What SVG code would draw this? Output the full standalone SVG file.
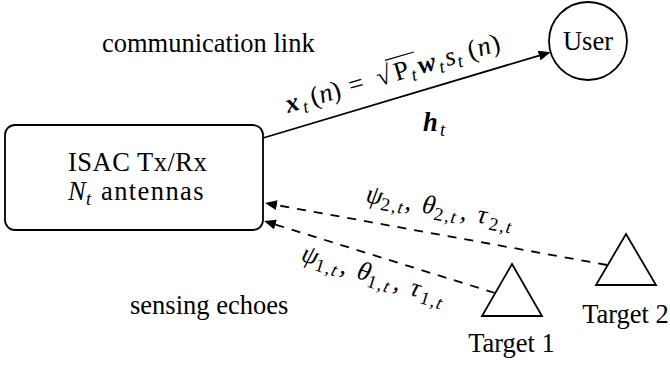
<svg xmlns="http://www.w3.org/2000/svg" width="670" height="366" viewBox="0 0 670 366">
<defs>
<style>
text{font-family:"Liberation Serif","Times New Roman",serif;font-size:26.5px;fill:#000}
.it{font-style:italic}
.bi{font-style:italic;font-weight:bold}
.sub{font-size:18.5px}
.gs{letter-spacing:1.6px}
.shape{fill:#fff;stroke:#000;stroke-width:1.8}
.conn{fill:none;stroke:#000;stroke-width:1.8}
.dash{stroke-dasharray:9 8}
</style>
<marker id="arr" viewBox="0 0 12 10" refX="0" refY="5" markerWidth="12" markerHeight="10" markerUnits="userSpaceOnUse" orient="auto">
<path d="M0,0 L12,5 L0,10 z" fill="#000"/>
</marker>
</defs>
<rect width="670" height="366" fill="#fff"/>

<g id="connectors">
<line class="conn" x1="263" y1="138" x2="539.1" y2="55.6" marker-end="url(#arr)"/>
<line class="conn dash" x1="607" y1="265" x2="276.8" y2="205.1" marker-end="url(#arr)"/>
<line class="conn dash" x1="495" y1="293" x2="275.5" y2="224.6" marker-end="url(#arr)"/>
</g>

<g id="isac">
<rect class="shape" x="5" y="125" width="258" height="105" rx="10"/>
<text x="68" y="171" letter-spacing="0.5">ISAC Tx/Rx</text>
<text class="it" x="68" y="200">N</text>
<text class="it sub" x="86" y="205">t</text>
<text x="101" y="200" letter-spacing="1.4">antennas</text>
</g>

<g id="user">
<circle class="shape" cx="588" cy="41" r="39"/>
<text x="588" y="50" text-anchor="middle">User</text>
</g>

<g id="target1">
<path class="shape" d="M512,264 L542,316 L482,316 Z"/>
<text x="511.5" y="352" text-anchor="middle">Target 1</text>
</g>

<g id="target2">
<path class="shape" d="M626,234 L656,285 L596,285 Z"/>
<text x="625.5" y="323" text-anchor="middle">Target 2</text>
</g>

<g id="labels">
<text x="102" y="52">communication link</text>
<text x="130" y="314">sensing echoes</text>

<text class="bi" x="423" y="131">h</text>
<text class="it sub" x="440" y="136">t</text>

<g transform="translate(288,113) rotate(-16.4)">
<text class="bi" x="0" y="0">x</text>
<text class="it sub" x="16" y="5">t</text>
<text x="26" y="0" font-size="28">(<tspan class="it">n</tspan>)</text>
<text x="66" y="0">=</text>
<text x="95" y="0">√</text>
<line x1="108" y1="-23" x2="138" y2="-23" stroke="#000" stroke-width="1.2"/>
<text x="113" y="0">P</text>
<text class="it sub" x="129" y="5">t</text>
<text class="bi" x="138" y="0">w</text>
<text class="it sub" x="158" y="5">t</text>
<text class="it" x="166" y="0">s</text>
<text class="it sub" x="177" y="5">t</text>
<text x="190" y="0" font-size="28" letter-spacing="1">(<tspan class="it">n</tspan>)</text>
</g>

<g transform="translate(365,202) rotate(10.3)">
<text class="it" x="0" y="0">ψ</text>
<text class="sub gs" x="16" y="5">2,<tspan class="it">t</tspan></text>
<text x="40" y="0">,</text>
<text class="it" x="57" y="0">θ</text>
<text class="sub gs" x="70" y="5">2,<tspan class="it">t</tspan></text>
<text x="96" y="0">,</text>
<text class="it" x="113" y="0">τ</text>
<text class="sub gs" x="126" y="5">2,<tspan class="it">t</tspan></text>
</g>

<g transform="translate(300,260.5) rotate(17.3)">
<text class="it" x="0" y="0">ψ</text>
<text class="sub gs" x="16" y="5">1,<tspan class="it">t</tspan></text>
<text x="41" y="0">,</text>
<text class="it" x="58" y="0">θ</text>
<text class="sub gs" x="70.5" y="5">1,<tspan class="it">t</tspan></text>
<text x="97" y="0">,</text>
<text class="it" x="114" y="0">τ</text>
<text class="sub gs" x="126" y="5">1,<tspan class="it">t</tspan></text>
</g>
</g>
</svg>
